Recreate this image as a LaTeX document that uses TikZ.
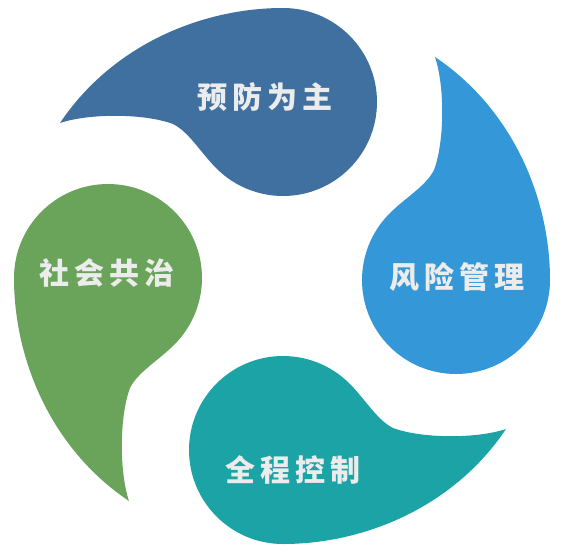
\documentclass[tikz,border=0pt]{standalone}
\usepackage{fontspec}
\newfontfamily\titrefont[LetterSpace=17]{Noto Sans CJK SC}
\definecolor{bleufonce}{RGB}{64,112,160}
\definecolor{bleuclair}{RGB}{52,152,216}
\definecolor{turquoise}{RGB}{27,163,165}
\definecolor{vertolive}{RGB}{106,163,90}
\definecolor{gristexte}{RGB}{236,236,236}

\begin{document}
\begin{tikzpicture}[x=1pt, y=1pt]
\tikzset{goutte/.pic={\fill[pic actions] (-223,-21) .. controls (-170,58) and (-80,94) .. (0,94)
    arc[start angle=90, end angle=-130, radius=94pt]
    .. controls (-79.6,-55.9) and (-92,-31) .. (-110,-22)
    .. controls (-138,-11.5) and (-193,-11) .. (-223,-21) -- cycle;},
  titre/.style={text=gristexte, font=\titrefont\bfseries\fontsize{30pt}{36pt}\selectfont}}
\useasboundingbox (-283,-275) rectangle (281,277);
\pic[fill=bleufonce] at (0,175) {goutte};
\pic[fill=bleuclair, rotate=-90] at (173,-3) {goutte};
\pic[fill=turquoise, rotate=180] at (0,-173) {goutte};
\pic[fill=vertolive, rotate=90] at (-175,-1) {goutte};
\node[titre] (prevention) at (-18,180) {预防为主};
\node[titre] (risque) at (174,0) {风险管理};
\node[titre] (controle) at (10,-193) {全程控制};
\node[titre] (societe) at (-176,4) {社会共治};
\end{tikzpicture}
\end{document}
